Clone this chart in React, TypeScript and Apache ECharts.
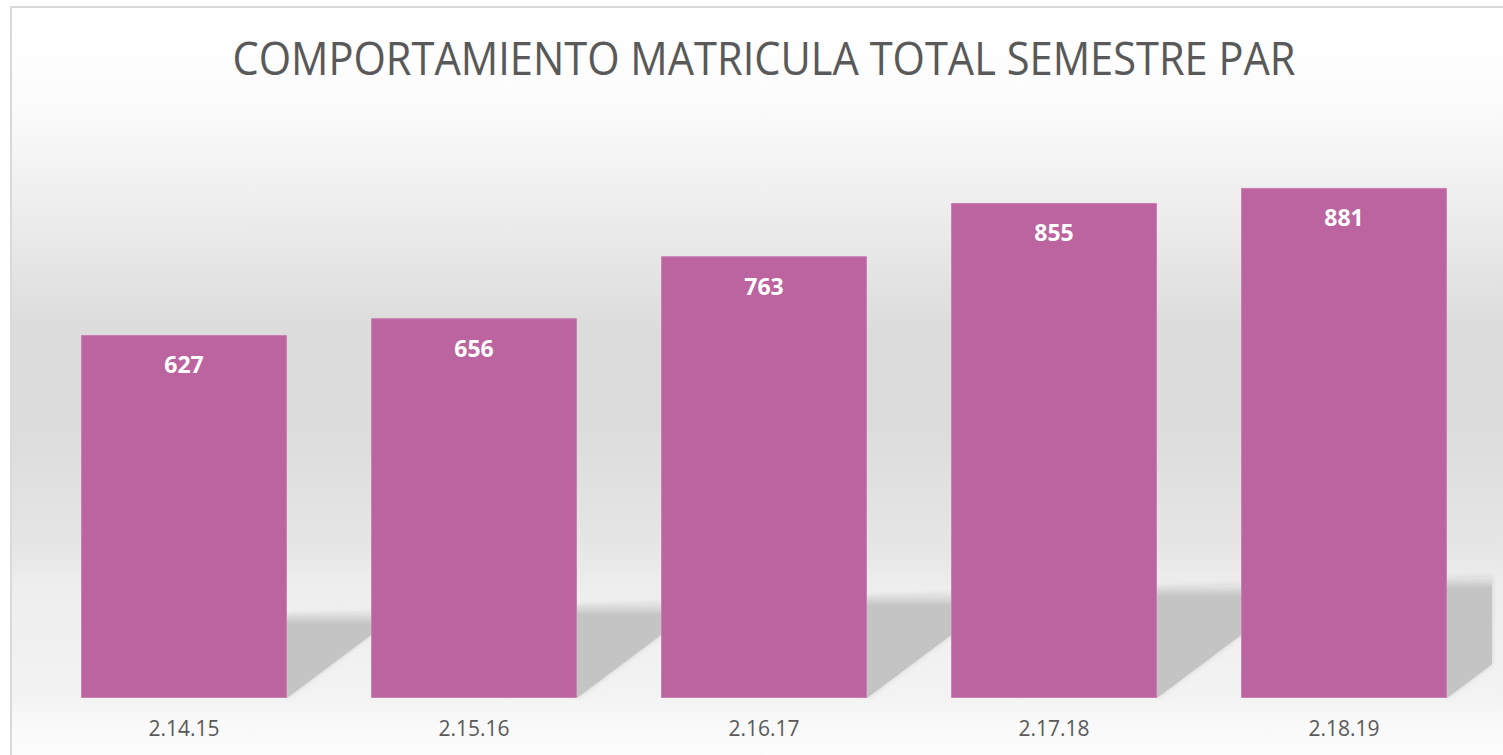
import React, { useEffect, useRef } from "react";
import * as echarts from "echarts";

const categories = ["2.14.15", "2.15.16", "2.16.17", "2.17.18", "2.18.19"];
const values = [627, 656, 763, 855, 881];
const titleText = "COMPORTAMIENTO MATRICULA TOTAL SEMESTRE PAR";

export default function App() {
  const ref = useRef<HTMLDivElement>(null);
  useEffect(() => {
    if (!ref.current) return;
    const chart = echarts.init(ref.current, undefined, { renderer: "svg" });
    const gapRatio = 0.29;
    chart.setOption({
      animation: false,
      backgroundColor: "transparent",
      graphic: [
        {
          type: "text",
          x: 764,
          y: 58,
          scaleX: 0.925,
          style: {
            text: titleText,
            fontFamily: "Open Sans",
            fontSize: 45,
            fontWeight: "normal",
            fill: "#595959",
            align: "center",
            verticalAlign: "middle",
          },
        },
      ],
      grid: { left: 39, right: 14, top: 119, bottom: 57 },
      xAxis: {
        type: "category",
        data: categories,
        axisLine: { show: false },
        axisTick: { show: false },
        axisLabel: {
          color: "#595959",
          fontFamily: "Open Sans",
          fontSize: 21,
          margin: 19,
        },
      },
      yAxis: {
        type: "value",
        min: 0,
        max: 1000,
        show: false,
        splitLine: { show: false },
      },
      series: [
        {
          type: "custom",
          z: 1,
          silent: true,
          data: values,
          renderItem: (params: any, api: any) => {
            const idx = params.dataIndex;
            const base = api.coord([idx, 0]);
            const band = api.size([1, 0])[0];
            const barW = band * (1 - gapRatio);
            const gap = band - barW;
            const cs = params.coordSys;
            const xR = base[0] + barW / 2;
            const xMax = cs.x + cs.width + 3;
            const xN = Math.min(xR + gap, xMax);
            const by = base[1];
            const topY = (x: number) => by - 83 - 0.0319 * (x - (cs.x + 251));
            const diag = (63 * (xN - xR)) / gap;
            const h = by - topY(xN);
            const f = 12 / h;
            return {
              type: "polygon",
              shape: {
                points: [
                  [xR, topY(xR)],
                  [xN, topY(xN)],
                  [xN, by - diag],
                  [xR, by],
                ],
              },
              style: {
                fill: {
                  type: "linear",
                  x: 0,
                  y: 0,
                  x2: 0,
                  y2: 1,
                  colorStops: [
                    { offset: 0, color: "#e6e6e6" },
                    { offset: f, color: "#c4c4c4" },
                    { offset: 1, color: "#c4c4c4" },
                  ],
                },
                shadowBlur: 5,
                shadowColor: "rgba(200,200,200,0.8)",
              },
            };
          },
        },
        {
          type: "bar",
          z: 3,
          data: values,
          barCategoryGap: "29%",
          itemStyle: {
            color: "#BC64A0",
            borderColor: "#c87fb2",
            borderWidth: 1,
          },
          label: {
            show: true,
            position: "insideTop",
            distance: 18,
            color: "#ffffff",
            fontFamily: "Open Sans",
            fontWeight: "bold",
            fontSize: 23,
          },
        },
      ],
    });
    return () => chart.dispose();
  }, []);

  return (
    <div
      style={{
        position: "fixed",
        left: 0,
        top: 0,
        width: 1503,
        height: 755,
        overflow: "hidden",
        background: "#ffffff",
      }}
    >
      <div
        style={{
          position: "absolute",
          left: 10,
          top: 6,
          width: 1520,
          height: 780,
          borderLeft: "2px solid #d9d9d9",
          borderTop: "2px solid #d9d9d9",
          background:
            "linear-gradient(to bottom, #ffffff 0px, #fcfcfc 90px, #efefef 190px, #dcdcdc 320px, #dcdcdc 420px, #e6e6e6 540px, #eeeeee 580px, #f3f3f3 690px, #f9f9f9 715px, #fdfdfd 760px)",
        }}
      />
      <div
        ref={ref}
        style={{ position: "absolute", left: 0, top: 0, width: 1503, height: 755 }}
      />
    </div>
  );
}
